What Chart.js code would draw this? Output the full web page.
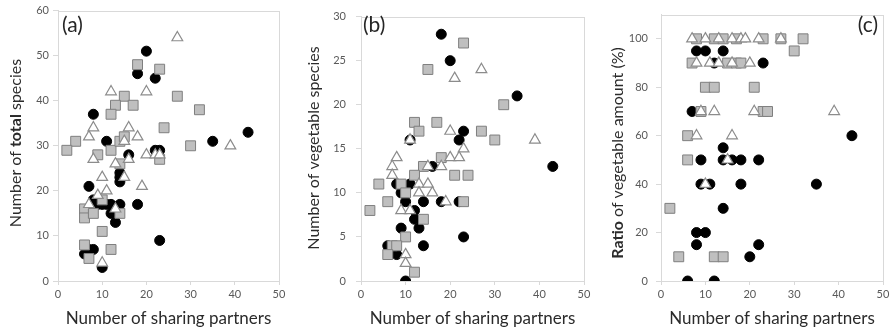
<!DOCTYPE html>
<html>
<head>
<meta charset="utf-8">
<script src="https://cdn.jsdelivr.net/npm/chart.js@4.4.1/dist/chart.umd.min.js"></script>
<style>
  html, body { margin: 0; padding: 0; background: #fff; }
  #wrap { position: relative; width: 893px; height: 333px; overflow: hidden; }
  canvas { position: absolute; top: 0; }
</style>
</head>
<body>
<div id="wrap">
  <canvas id="panelA" width="298" height="333" style="left:0px"></canvas>
  <canvas id="panelB" width="298" height="333" style="left:298px"></canvas>
  <canvas id="panelC" width="297" height="333" style="left:596px"></canvas>
</div>
<script>
// [sharing partners, value] pairs, one array per group and panel

// (a) number of total species
const totalCircles = [[20,51],[18,46],[22,45],[8,37],[11,31],[35,31],[43,33],[22,29],[23,29],[16,28],[14,24],[14,23],[14,22],[7,21],[8,18],[9,17],[10,17],[11,17],[12,17],[12,15],[13,13],[14,17],[18,17],[23,9],[8,7],[7,7],[6,6],[10,3]];
const totalSquares = [[18,48],[23,47],[15,41],[27,41],[13,39],[17,39],[12,37],[32,38],[24,34],[4,31],[2,29],[9,28],[12,29],[14,31],[15,32],[30,30],[23,27],[14,26],[6,16],[6,14],[8,15],[10,18],[14,15],[10,11],[6,8],[7,5],[12,7]];
const totalTriangles = [[27,54],[12,42],[20,42],[8,34],[7,32],[16,34],[18,32],[15,31],[39,30],[8,27],[16,27],[13,26],[20,28],[22,28],[23,28],[15,23],[10,23],[19,21],[11,20],[9,19],[7,17],[13,16],[10,4]];

// (b) number of vegetable species
const vegCircles = [[18,28],[20,25],[35,21],[43,13],[23,17],[22,16],[11,16],[16,13],[8,11],[11,11],[9,10],[10,9],[14,9],[18,9],[22,9],[12,8],[12,7],[13,6],[9,6],[14,4],[23,5],[6,4],[8,3],[10,0]];
const vegSquares = [[23,27],[15,24],[32,20],[12,18],[17,18],[13,17],[27,17],[30,16],[18,14],[14,13],[12,12],[21,12],[24,12],[4,11],[9,11],[10,10],[2,8],[6,9],[23,9],[14,7],[10,5],[7,4],[8,4],[6,3],[12,1]];
const vegTriangles = [[21,23],[27,24],[39,16],[20,17],[11,16],[23,15],[20,14],[22,14],[8,14],[7,13],[7,12],[15,13],[18,13],[13,11],[15,11],[13,10],[16,10],[19,9],[9,8],[11,8],[10,3],[10,2]];

// (c) ratio of vegetable amount (%)
const ratioCircles = [[8,95],[10,95],[14,95],[23,90],[12,90],[7,70],[43,60],[14,55],[9,50],[14,50],[16,50],[18,50],[22,50],[9,40],[11,40],[18,40],[35,40],[14,30],[8,20],[10,20],[8,15],[22,15],[20,10],[6,0],[12,0]];
const ratioSquares = [[8,100],[12,100],[14,100],[17,100],[23,100],[27,100],[32,100],[30,95],[7,90],[15,90],[17,90],[18,90],[10,80],[12,80],[21,80],[9,70],[23,70],[24,70],[6,60],[6,50],[2,30],[4,10],[12,10],[14,10]];
const ratioTriangles = [[7,100],[10,100],[13,100],[16,100],[18,100],[19,100],[22,100],[27,100],[8,90],[11,90],[13,90],[16,90],[20,90],[9,70],[12,70],[21,70],[39,70],[8,60],[16,60],[15,50],[10,40]];

const xTicks = [0, 10, 20, 30, 40, 50];
const xTitle = 'Number of sharing partners';

const FONT = 'Lato, "Open Sans", sans-serif';
const AXIS_GRAY = '#d9d9d9';

const toPoints = arr => arr.map(p => ({ x: p[0], y: p[1] }));

// frame + titles drawn by hand (y titles have a bold word in them)
const panelDecor = {
  id: 'panelDecor',
  beforeDatasetsDraw(chart) {
    const { ctx, chartArea: a } = chart;
    ctx.save();
    ctx.strokeStyle = AXIS_GRAY;
    ctx.lineWidth = 1;
    ctx.strokeRect(Math.round(a.left) + 0.5, Math.round(a.top) + 0.5,
      Math.round(a.right - a.left), Math.round(a.bottom - a.top));
    ctx.restore();
  },
  afterDraw(chart, args, opts) {
    const { ctx, chartArea: a } = chart;
    ctx.save();
    ctx.fillStyle = '#2b2b2b';
    ctx.textBaseline = 'middle';

    // x title
    ctx.font = '17px ' + FONT;
    ctx.textAlign = 'center';
    ctx.fillText(xTitle, (a.left + a.right) / 2, opts.xTitleY);

    // y title, rotated, mixed weights
    ctx.translate(opts.yTitleX, opts.yTitleY);
    ctx.rotate(-Math.PI / 2);
    ctx.textAlign = 'left';
    let total = 0;
    opts.yTitle.forEach(s => {
      ctx.font = (s[1] ? 'bold ' : '') + '16px ' + FONT;
      total += ctx.measureText(s[0]).width;
    });
    let x = -total / 2;
    opts.yTitle.forEach(s => {
      ctx.font = (s[1] ? 'bold ' : '') + '16px ' + FONT;
      ctx.fillText(s[0], x, 0);
      x += ctx.measureText(s[0]).width;
    });
    ctx.restore();

    // panel label
    ctx.save();
    ctx.fillStyle = '#262626';
    ctx.font = '21px ' + FONT;
    ctx.textBaseline = 'middle';
    ctx.textAlign = opts.labelAlign;
    ctx.fillText(opts.label, opts.labelX, 25);
    ctx.restore();
  }
};

function makePanel(id, p) {
  return new Chart(document.getElementById(id), {
    type: 'scatter',
    data: {
      datasets: [
        {
          label: 'triangles', data: toPoints(p.triangles), order: 0,
          pointStyle: 'triangle', pointRadius: 6.2,
          backgroundColor: '#ffffff', borderColor: '#8c8c8c', borderWidth: 1.2
        },
        {
          label: 'squares', data: toPoints(p.squares), order: 1,
          pointStyle: 'rect', pointRadius: 7,
          backgroundColor: '#bfbfbf', borderColor: '#7f7f7f', borderWidth: 1
        },
        {
          label: 'circles', data: toPoints(p.circles), order: 2,
          pointStyle: 'circle', pointRadius: 5,
          backgroundColor: '#000000', borderColor: '#000000', borderWidth: 1
        }
      ]
    },
    options: {
      responsive: false,
      animation: false,
      layout: { padding: { left: 0, right: p.padRight, top: 9, bottom: 0 } },
      plugins: {
        legend: { display: false },
        tooltip: { enabled: false },
        panelDecor: p.decor
      },
      scales: {
        x: {
          type: 'linear', min: 0, max: 50,
          afterBuildTicks: s => { s.ticks = xTicks.map(v => ({ value: v })); },
          ticks: { color: '#595959', font: { family: FONT, size: 11 }, padding: 3, maxRotation: 0 },
          grid: { drawOnChartArea: false, color: AXIS_GRAY, tickLength: 4 },
          border: { color: AXIS_GRAY },
          afterFit: s => { s.height = 52; }
        },
        y: {
          type: 'linear', min: 0, max: p.yMax,
          afterBuildTicks: s => { s.ticks = p.yTicks.map(v => ({ value: v })); },
          ticks: { color: '#595959', font: { family: FONT, size: 11 }, padding: p.yPad },
          grid: { drawOnChartArea: false, color: AXIS_GRAY, tickLength: 5 },
          border: { color: AXIS_GRAY },
          afterFit: s => { s.width = p.yWidth; }
        }
      }
    },
    plugins: [panelDecor]
  });
}

makePanel('panelA', {
  circles: totalCircles, squares: totalSquares, triangles: totalTriangles,
  yMax: 60, yTicks: [0, 10, 20, 30, 40, 50, 60], yWidth: 58, yPad: 4, padRight: 19,
  decor: {
    xTitleY: 319, yTitleX: 16, yTitleY: 143,
    yTitle: [['Number of ', false], ['total', true], [' species', false]],
    label: '(a)', labelX: 62, labelAlign: 'left'
  }
});

makePanel('panelB', {
  circles: vegCircles, squares: vegSquares, triangles: vegTriangles,
  yMax: 30, yTicks: [0, 5, 10, 15, 20, 25, 30], yWidth: 63, yPad: 10, padRight: 12,
  decor: {
    xTitleY: 319, yTitleX: 16, yTitleY: 148,
    yTitle: [['Number of vegetable species', false]],
    label: '(b)', labelX: 65, labelAlign: 'left'
  }
});

makePanel('panelC', {
  circles: ratioCircles, squares: ratioSquares, triangles: ratioTriangles,
  yMax: 110, yTicks: [0, 20, 40, 60, 80, 100], yWidth: 65, yPad: 8, padRight: 10,
  decor: {
    xTitleY: 319, yTitleX: 22, yTitleY: 153,
    yTitle: [['Ratio', true], [' of vegetable amount (%)', false]],
    label: '(c)', labelX: 282, labelAlign: 'right'
  }
});
</script>
</body>
</html>
